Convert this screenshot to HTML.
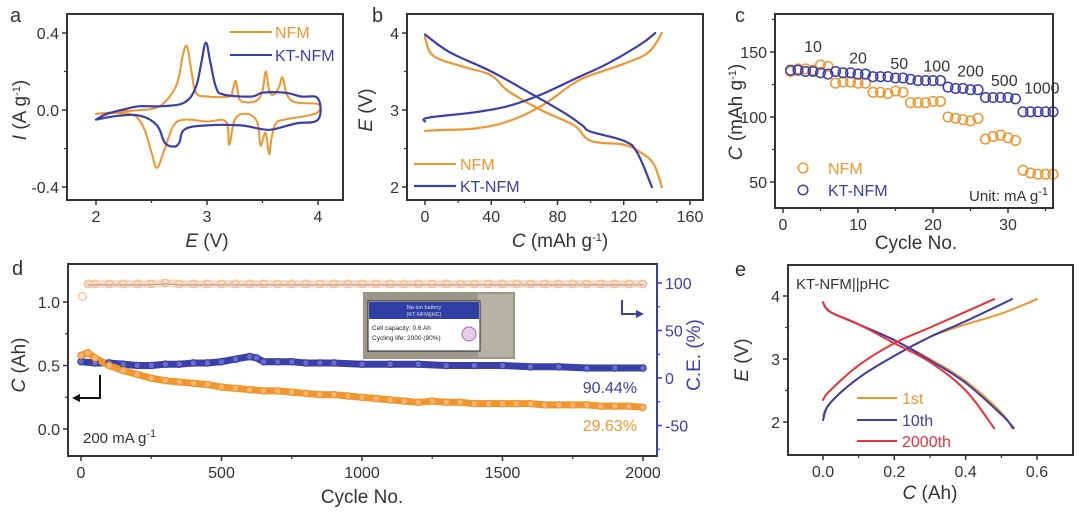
<!DOCTYPE html>
<html><head><meta charset="utf-8"><style>
html,body{margin:0;padding:0;background:#fff;}
svg{display:block;font-family:"Liberation Sans",Arial,sans-serif;}
</style></head><body>
<svg id="fig" width="1080" height="520" viewBox="0 0 1080 520"></svg>
<script>
// ---------- DATA ----------
// panel a: CV curves (E in V, I in A/g)
const aNfmE = [2.0,2.2,2.4,2.5,2.6,2.7,2.75,2.78,2.82,2.86,2.9,3.0,3.2,3.23,3.26,3.29,3.35,3.45,3.5,3.53,3.56,3.6,3.65,3.68,3.72,3.8,4.0,4.0,3.9,3.7,3.62,3.58,3.56,3.53,3.5,3.48,3.45,3.35,3.25,3.2,3.17,3.0,2.8,2.7,2.62,2.55,2.5,2.42,2.3,2.0];
const aNfmI = [-0.02,-0.01,0.0,0.005,0.03,0.1,0.18,0.28,0.33,0.2,0.09,0.07,0.07,0.1,0.15,0.06,0.04,0.05,0.1,0.2,0.1,0.08,0.12,0.17,0.08,0.04,0.03,-0.01,-0.03,-0.05,-0.07,-0.15,-0.23,-0.12,-0.16,-0.18,-0.06,-0.02,-0.05,-0.18,-0.06,-0.06,-0.05,-0.08,-0.2,-0.3,-0.22,-0.08,-0.02,-0.02];
const aKtE = [2.0,2.1,2.3,2.4,2.6,2.8,2.9,2.95,2.99,3.03,3.08,3.15,3.4,3.5,3.7,3.85,4.0,4.0,3.8,3.6,3.5,3.3,3.0,2.8,2.75,2.7,2.62,2.55,2.4,2.2,2.0];
const aKtI = [-0.05,-0.02,0.01,0.02,0.02,0.04,0.12,0.25,0.35,0.25,0.12,0.08,0.07,0.09,0.09,0.07,0.06,-0.05,-0.07,-0.1,-0.1,-0.08,-0.08,-0.1,-0.17,-0.19,-0.17,-0.08,-0.03,-0.03,-0.05];
// panel b: charge/discharge (C mAh/g, E V)
const bNfmChC = [0,10,30,50,70,90,100,120,135,143];
const bNfmChE = [2.73,2.74,2.76,2.85,3.05,3.35,3.45,3.6,3.75,4.0];
const bNfmDisC = [0,3,10,25,40,50,70,90,100,120,130,138,143];
const bNfmDisE = [3.95,3.75,3.65,3.55,3.45,3.25,3.0,2.8,2.6,2.55,2.45,2.3,2.0];
const bKtChC = [0,2,30,50,70,90,110,130,139];
const bKtChE = [2.85,2.9,2.97,3.05,3.2,3.4,3.6,3.85,4.0];
const bKtDisC = [0,15,40,65,85,95,100,120,128,137];
const bKtDisE = [3.98,3.75,3.5,3.2,2.95,2.8,2.72,2.6,2.45,2.0];
// panel c: rate capability
const cCycles = [1,2,3,4,5,6,7,8,9,10,11,12,13,14,15,16,17,18,19,20,21,22,23,24,25,26,27,28,29,30,31,32,33,34,35,36];
const cNfm = [135,137,137,136,140,139,126,127,127,126,126,119,119,118,120,119,111,111,111,112,112,100,99,98,97,99,83,85,86,84,82,59,57,56,56,56];
const cKt = [136,136,135,135,134,133,135,134,134,133,133,131,131,131,130,130,129,128,128,128,128,123,122,122,121,121,115,115,115,115,114,104,104,104,104,104];
const cRateLabels = ["10","20","50","100","200","500","1000"];
const cRateCycle = [4,10,15.5,20.5,25,29.5,34.5];
const cRateValue = [150,141,137,135,131,124,118];
// panel d: long cycling
const dCycNfm = [0,25,50,100,150,200,250,300,350,400,450,500,550,600,650,700,750,800,850,900,950,1000,1050,1100,1150,1200,1250,1300,1350,1400,1450,1500,1550,1600,1650,1700,1750,1800,1850,1900,1950,2000];
const dNfm = [0.58,0.6,0.56,0.5,0.46,0.43,0.4,0.38,0.37,0.36,0.35,0.33,0.32,0.31,0.3,0.3,0.29,0.28,0.27,0.27,0.26,0.25,0.24,0.23,0.22,0.21,0.22,0.21,0.21,0.2,0.2,0.2,0.2,0.2,0.19,0.19,0.19,0.19,0.18,0.18,0.18,0.17];
const dCycKt = [0,50,100,150,200,250,300,350,400,450,500,550,600,625,650,700,750,800,850,900,1000,1100,1200,1300,1400,1500,1600,1700,1800,1900,2000];
const dKt = [0.53,0.52,0.52,0.51,0.5,0.5,0.51,0.51,0.52,0.52,0.53,0.55,0.57,0.56,0.53,0.53,0.53,0.52,0.52,0.52,0.51,0.51,0.51,0.5,0.5,0.5,0.49,0.49,0.48,0.48,0.48];
const dCycCe = [5,25,50,100,150,200,250,300,350,400,450,500,550,600,650,700,750,800,850,900,950,1000,1050,1100,1150,1200,1250,1300,1350,1400,1450,1500,1550,1600,1650,1700,1750,1800,1850,1900,1950,2000];
const dCe = [86,99,99,99,99,99,99,100,99,99,99,99,99,99,99,99,99,99,99,99,99,99,99,99,99,99,99,99,99,99,99,99,99,99,99,99,99,99,99,99,99,99];
// panel e: full cell curves (C Ah, E V)
const e1ChC = [0,0.02,0.1,0.2,0.3,0.4,0.5,0.6];
const e1ChE = [2.1,2.3,2.7,3.05,3.35,3.55,3.72,3.95];
const e1DisC = [0,0.02,0.1,0.2,0.3,0.4,0.5,0.53];
const e1DisE = [3.9,3.75,3.55,3.3,3.0,2.65,2.15,1.9];
const e10ChC = [0,0.02,0.1,0.2,0.3,0.4,0.53];
const e10ChE = [2.03,2.3,2.7,3.05,3.35,3.6,3.95];
const e10DisC = [0,0.02,0.1,0.2,0.3,0.4,0.5,0.535];
const e10DisE = [3.9,3.75,3.55,3.3,2.98,2.62,2.12,1.9];
const e2kChC = [0,0.02,0.1,0.2,0.3,0.4,0.48];
const e2kChE = [2.35,2.5,2.9,3.25,3.5,3.75,3.95];
const e2kDisC = [0,0.02,0.1,0.2,0.3,0.4,0.48];
const e2kDisE = [3.9,3.75,3.55,3.25,2.95,2.5,1.9];

// ---------- HELPERS ----------
const NS = "http://www.w3.org/2000/svg";
const svg = document.getElementById("fig");
const OR = "#f0962f", BL = "#3b3fa8", RD = "#e8323c", AX = "#333";
function mk(tag, attrs, parent) {
  const e = document.createElementNS(NS, tag);
  for (const k in attrs) e.setAttribute(k, attrs[k]);
  (parent || svg).appendChild(e);
  return e;
}
function txt(s, x, y, size, opts, parent) {
  const t = mk("text", Object.assign({x: x, y: y, "font-size": size, fill: AX}, opts || {}), parent);
  t.textContent = s;
  return t;
}
function lin(v0, p0, v1, p1) { return v => p0 + (v - v0) * (p1 - p0) / (v1 - v0); }
function frame(x0, x1, y0, y1, g) {
  mk("rect", {x: x0, y: y0, width: x1 - x0, height: y1 - y0, fill: "none", stroke: AX, "stroke-width": 2}, g);
}
function xTicks(sx, yb, majors, minors, labels, g, col) {
  majors.forEach((v, i) => {
    mk("line", {x1: sx(v), x2: sx(v), y1: yb, y2: yb + 5, stroke: col || AX, "stroke-width": 1.5}, g);
    txt(labels[i], sx(v), yb + 22, 16, {"text-anchor": "middle"}, g);
  });
  minors.forEach(v => mk("line", {x1: sx(v), x2: sx(v), y1: yb, y2: yb + 3, stroke: col || AX, "stroke-width": 1.2}, g));
}
function yTicks(sy, xl, majors, minors, labels, g, right, col) {
  const d = right ? 1 : -1;
  majors.forEach((v, i) => {
    mk("line", {x1: xl, x2: xl + 5 * d, y1: sy(v), y2: sy(v), stroke: col || AX, "stroke-width": 1.5}, g);
    txt(labels[i], xl + 8 * d, sy(v) + 6, 16, {"text-anchor": right ? "start" : "end", fill: col || AX}, g);
  });
  minors.forEach(v => mk("line", {x1: xl, x2: xl + 3 * d, y1: sy(v), y2: sy(v), stroke: col || AX, "stroke-width": 1.2}, g));
}
// smooth rendering (Catmull-Rom to cubic Bezier) through the data points
function path(xs, ys, sx, sy, col, w, g, smooth) {
  const P = xs.map((v, i) => [sx(v), sy(ys[i])]);
  let d = "M" + P[0][0].toFixed(1) + "," + P[0][1].toFixed(1);
  for (let i = 0; i < P.length - 1; i++) {
    if (!smooth) { d += "L" + P[i + 1][0].toFixed(1) + "," + P[i + 1][1].toFixed(1); continue; }
    const p0 = P[Math.max(0, i - 1)], p1 = P[i], p2 = P[i + 1], p3 = P[Math.min(P.length - 1, i + 2)];
    const t = 0.18;
    const c1 = [p1[0] + (p2[0] - p0[0]) * t, p1[1] + (p2[1] - p0[1]) * t];
    const c2 = [p2[0] - (p3[0] - p1[0]) * t, p2[1] - (p3[1] - p1[1]) * t];
    d += "C" + c1[0].toFixed(1) + "," + c1[1].toFixed(1) + " " + c2[0].toFixed(1) + "," + c2[1].toFixed(1) + " " + p2[0].toFixed(1) + "," + p2[1].toFixed(1);
  }
  return mk("path", {d: d, fill: "none", stroke: col, "stroke-width": w || 2, "stroke-linejoin": "round", "stroke-linecap": "round"}, g);
}
function rotLabel(parts, x, y, size, col, g) {
  const t = mk("text", {x: x, y: y, "font-size": size, fill: col || AX, "text-anchor": "middle", transform: "rotate(-90 " + x + " " + y + ")"}, g);
  parts.forEach(p => {
    const s = mk("tspan", p[1] || {}, t);
    s.textContent = p[0];
  });
  return t;
}
function hLabel(parts, x, y, size, g, col) {
  const t = mk("text", {x: x, y: y, "font-size": size, fill: col || AX, "text-anchor": "middle"}, g);
  parts.forEach(p => {
    const s = mk("tspan", p[1] || {}, t);
    s.textContent = p[0];
  });
  return t;
}
const IT = {"font-style": "italic"};
const SUP = {"baseline-shift": "super", "font-size": 11};

// ---------- PANEL A ----------
{
  const g = mk("g", {});
  
  
  const sx = lin(2, 96, 4, 318), sy = lin(0, 110, 0.4, 33);
  const l = txt("a", 10, 22, 20, {}, g);
  
  
  const p1 = path(aNfmE, aNfmI, sx, sy, OR, 2, g, true);
  
  
  const p2 = path(aKtE, aKtI, sx, sy, BL, 2.2, g, true);
  
  
  frame(67, 343, 14, 200, g);
  xTicks(sx, 200, [2, 3, 4], [2.5, 3.5], ["2", "3", "4"], g);
  yTicks(sy, 67, [-0.4, 0, 0.4], [-0.2, 0.2], ["-0.4", "0.0", "0.4"], g);
  const xt = hLabel([["E", IT], [" (V)"]], 207, 247, 19, g);
  
  
  const yt = rotLabel([["I", IT], [" (A g"], ["-1", SUP], [")"]], 26, 110, 19, AX, g);
  
  
  mk("line", {x1: 230, x2: 272, y1: 32, y2: 32, stroke: OR, "stroke-width": 2}, g);
  const le1 = txt("NFM", 275, 38, 16, {fill: OR}, g);
  
  
  mk("line", {x1: 230, x2: 272, y1: 55, y2: 55, stroke: BL, "stroke-width": 2}, g);
  const le2 = txt("KT-NFM", 275, 61, 16, {fill: BL}, g);
  
  
}

// ---------- PANEL B ----------
{
  const g = mk("g", {});
  
  
  const sx = lin(0, 425, 160, 690), sy = lin(3, 110, 4, 33);
  const l = txt("b", 372, 22, 20, {}, g);
  
  
  [[bNfmChC, bNfmChE, OR, 'nfm-charge-curve'], [bNfmDisC, bNfmDisE, OR, 'nfm-discharge-curve'],
   [bKtChC, bKtChE, BL, 'kt-nfm-charge-curve'], [bKtDisC, bKtDisE, BL, 'kt-nfm-discharge-curve']].forEach(s => {
    const p = path(s[0], s[1], sx, sy, s[2], 2.2, g, true);
    
    
  });
  frame(407, 703, 14, 200, g);
  xTicks(sx, 200, [0, 40, 80, 120, 160], [20, 60, 100, 140], ["0", "40", "80", "120", "160"], g);
  yTicks(sy, 407, [2, 3, 4], [2.5, 3.5], ["2", "3", "4"], g);
  const xt = hLabel([["C", IT], [" (mAh g"], ["-1", SUP], [")"]], 560, 247, 19, g);
  
  
  const yt = rotLabel([["E", IT], [" (V)"]], 372, 110, 19, AX, g);
  
  
  mk("line", {x1: 414, x2: 456, y1: 164, y2: 164, stroke: OR, "stroke-width": 2}, g);
  const le1 = txt("NFM", 460, 170, 16, {fill: OR}, g);
  
  
  mk("line", {x1: 414, x2: 456, y1: 186, y2: 186, stroke: BL, "stroke-width": 2.2}, g);
  const le2 = txt("KT-NFM", 460, 192, 16, {fill: BL}, g);
  
  
}

// ---------- PANEL C ----------
{
  const g = mk("g", {});
  
  
  const sx = lin(0, 783, 30, 1008), sy = lin(50, 182, 150, 52);
  const l = txt("c", 735, 22, 20, {}, g);
  
  
  cCycles.forEach((c, i) => {
    const m = mk("circle", {cx: sx(c), cy: sy(cNfm[i]), r: 4.8, fill: "none", stroke: OR, "stroke-width": 1.5}, g);
    
    
  });
  cCycles.forEach((c, i) => {
    const m = mk("circle", {cx: sx(c), cy: sy(cKt[i]), r: 4.8, fill: "none", stroke: BL, "stroke-width": 1.5}, g);
    
    
  });
  cRateLabels.forEach((s, i) => {
    const t = txt(s, sx(cRateCycle[i]), sy(cRateValue[i]), 16, {"text-anchor": "middle"}, g);
    
    
  });
  frame(775, 1053, 14, 208, g);
  xTicks(sx, 208, [0, 10, 20, 30], [5, 15, 25, 35], ["0", "10", "20", "30"], g);
  yTicks(sy, 775, [50, 100, 150], [75, 125, 175], ["50", "100", "150"], g);
  const xt = hLabel([["Cycle No."]], 916, 249, 19, g);
  
  
  const yt = rotLabel([["C", IT], [" (mAh g"], ["-1", SUP], [")"]], 742, 112, 19, AX, g);
  
  
  mk("circle", {cx: 803, cy: 168, r: 4.8, fill: "none", stroke: OR, "stroke-width": 1.5}, g);
  const le1 = txt("NFM", 828, 174, 16, {fill: OR}, g);
  
  
  mk("circle", {cx: 803, cy: 190, r: 4.8, fill: "none", stroke: BL, "stroke-width": 1.5}, g);
  const le2 = txt("KT-NFM", 828, 196, 16, {fill: BL}, g);
  
  
  const u = hLabel([["Unit: mA g"], ["-1", SUP]], 0, 201, 15, g);
  u.setAttribute("text-anchor", "end"); u.setAttribute("x", 1048);
  
  
}

// ---------- PANEL D ----------
{
  const g = mk("g", {});
  
  
  const sx = lin(0, 81, 2000, 643), sy = lin(0, 429, 1, 302), sr = lin(0, 378, 100, 283);
  const l = txt("d", 12, 275, 20, {}, g);
  
  
  // CE band
  const ceBand = path(dCycCe.slice(1), dCe.slice(1), sx, sr, "#f8dcc2", 8, g);
  
  
  const ceBl = path(dCycCe.slice(1), dCe.slice(1).map(v => v - 1), sx, sr, "#9c8fc4", 1, g);
  
  
  dCycCe.forEach((c, i) => {
    const m = mk("circle", {cx: sx(c), cy: sr(dCe[i]), r: 3.8, fill: "none", stroke: "#f0bc8c", "stroke-width": 1.2}, g);
    
    
  });
  // capacity bands
  const bk = path(dCycKt, dKt, sx, sy, BL, 7, g);
  
  
  const bo = path(dCycNfm, dNfm, sx, sy, OR, 7, g);
  
  
  dCycKt.forEach((c, i) => {
    const m = mk("circle", {cx: sx(c), cy: sy(dKt[i]), r: 3.2, fill: "#6a6fc6", stroke: BL, "stroke-width": 1.2}, g);
    
    
  });
  dCycNfm.forEach((c, i) => {
    const m = mk("circle", {cx: sx(c), cy: sy(dNfm[i]), r: 3.2, fill: "#f6b872", stroke: OR, "stroke-width": 1.2}, g);
    
    
  });
  // inset photo
  const ins = mk("g", {}, g);
  
  
  mk("rect", {x: 363, y: 292, width: 152, height: 67, fill: "#9a9688"}, ins);
  mk("rect", {x: 478, y: 294, width: 35, height: 63, fill: "#b5b1a4"}, ins);
  mk("rect", {x: 368, y: 301, width: 112, height: 50, fill: "#fff", stroke: "#222", "stroke-width": 1}, ins);
  mk("rect", {x: 369, y: 302, width: 110, height: 17, fill: "#2f3fa3"}, ins);
  txt("Na-ion battery", 424, 309, 5.5, {fill: "#dde", "text-anchor": "middle"}, ins);
  txt("(KT-NFM||HC)", 424, 316, 5.5, {fill: "#dde", "text-anchor": "middle"}, ins);
  txt("Cell capacity: 0.6 Ah", 372, 330, 6.5, {fill: "#222"}, ins);
  txt("Cycling life: 2000 (90%)", 372, 340, 6.5, {fill: "#222"}, ins);
  mk("circle", {cx: 469, cy: 334, r: 7, fill: "#e6cde6", stroke: "#a56aa8"}, ins);
  // arrows
  mk("path", {d: "M100,375 L100,398 L78,398", fill: "none", stroke: "#111", "stroke-width": 2}, g);
  mk("path", {d: "M72,398 L80,394 L80,402 Z", fill: "#111"}, g);
  mk("path", {d: "M622,300 L622,314 L638,314", fill: "none", stroke: BL, "stroke-width": 2}, g);
  mk("path", {d: "M644,314 L636,310 L636,318 Z", fill: BL}, g);
  frame(68, 657, 264, 456, g);
  mk("line", {x1: 657, x2: 657, y1: 264, y2: 456, stroke: BL, "stroke-width": 2}, g);
  xTicks(sx, 456, [0, 500, 1000, 1500, 2000], [250, 750, 1250, 1750], ["0", "500", "1000", "1500", "2000"], g);
  yTicks(sy, 68, [0, 0.5, 1.0], [0.25, 0.75], ["0.0", "0.5", "1.0"], g);
  yTicks(sr, 657, [-50, 0, 50, 100], [-75, -25, 25, 75], ["-50", "0", "50", "100"], g, true, BL);
  const xt = hLabel([["Cycle No."]], 362, 503, 19, g);
  
  
  const yt = rotLabel([["C", IT], [" (Ah)"]], 25, 365, 19, AX, g);
  
  
  const yr = rotLabel([["C.E. (%)"]], 700, 355, 19, BL, g);
  
  
  const r1 = txt("90.44%", 637, 393, 16, {fill: BL, "text-anchor": "end"}, g);
  
  
  const r2 = txt("29.63%", 637, 431, 16, {fill: OR, "text-anchor": "end"}, g);
  
  
  const cur = hLabel([["200 mA g"], ["-1", SUP]], 0, 443, 15, g);
  cur.setAttribute("text-anchor", "start"); cur.setAttribute("x", 83);
  
  
}

// ---------- PANEL E ----------
{
  const g = mk("g", {});
  
  
  const sx = lin(0, 823, 0.6, 1037), sy = lin(3, 359, 4, 296);
  const l = txt("e", 735, 276, 20, {}, g);
  
  
  [[e1ChC, e1ChE, OR, '1st-charge'], [e1DisC, e1DisE, OR, '1st-discharge'],
   [e10ChC, e10ChE, BL, '10th-charge'], [e10DisC, e10DisE, BL, '10th-discharge'],
   [e2kChC, e2kChE, RD, '2000th-charge'], [e2kDisC, e2kDisE, RD, '2000th-discharge']].forEach(s => {
    const p = path(s[0], s[1], sx, sy, s[2], 2, g, true);
    
    
  });
  frame(788, 1073, 265, 455, g);
  xTicks(sx, 455, [0, 0.2, 0.4, 0.6], [0.1, 0.3, 0.5], ["0.0", "0.2", "0.4", "0.6"], g);
  yTicks(sy, 788, [2, 3, 4], [2.5, 3.5], ["2", "3", "4"], g);
  const xt = hLabel([["C", IT], [" (Ah)"]], 930, 499, 19, g);
  
  
  const yt = rotLabel([["E", IT], [" (V)"]], 748, 360, 19, AX, g);
  
  
  const ti = txt("KT-NFM||pHC", 796, 289, 15, {}, g);
  
  
  [["1st", OR, 398], ["10th", BL, 420], ["2000th", RD, 441]].forEach(s => {
    mk("line", {x1: 857, x2: 897, y1: s[2], y2: s[2], stroke: s[1], "stroke-width": 2}, g);
    const t = txt(s[0], 902, s[2] + 6, 16, {fill: s[1]}, g);
    
    
  });
}
</script>
</body></html>
